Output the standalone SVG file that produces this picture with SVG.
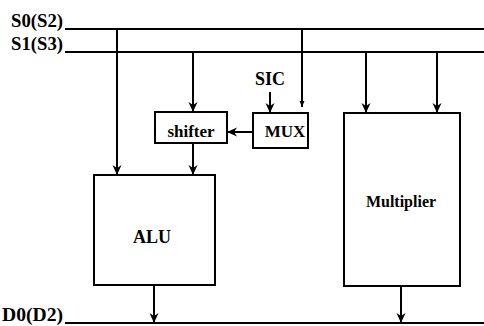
<svg xmlns="http://www.w3.org/2000/svg" width="484" height="326" viewBox="0 0 484 326" font-family="'Liberation Serif', 'DejaVu Serif', serif" font-weight="bold">
<style>
.bus{stroke:#000;stroke-width:2;fill:none}
.w{stroke:#000;stroke-width:2;fill:none}
.arr{marker-end:url(#ah)}
.box{fill:#fff;stroke:#000;stroke-width:2}
text{fill:#000}
.lbl{font-size:18px}
.nm{font-size:17px;text-anchor:middle}
</style>
<defs>
<marker id="ah" markerUnits="userSpaceOnUse" markerWidth="10" markerHeight="10" viewBox="0 0 10 10" refX="10" refY="5" orient="auto">
<path d="M0,0.5 L10,5 L0,9.5 L3,5 Z" fill="#000"/>
</marker>
<marker id="ahs" markerUnits="userSpaceOnUse" markerWidth="6" markerHeight="6" viewBox="0 0 6 6" refX="6" refY="3" orient="auto">
<path d="M0,0.5 L6,3 L0,5.5 Z" fill="#000"/>
</marker>
</defs>
<g id="buses">
<text class="lbl" x="11" y="27" textLength="52" lengthAdjust="spacingAndGlyphs">S0(S2)</text>
<text class="lbl" x="11" y="50" textLength="52" lengthAdjust="spacingAndGlyphs">S1(S3)</text>
<text class="lbl" x="2" y="321" textLength="61" lengthAdjust="spacingAndGlyphs">D0(D2)</text>
<line class="bus" x1="65" y1="29" x2="484" y2="29"/>
<line class="bus" x1="65" y1="52" x2="484" y2="52"/>
<line class="bus" x1="65" y1="323" x2="484" y2="323"/>
</g>
<g id="connectors">
<line class="w arr" x1="117" y1="29" x2="117" y2="175"/>
<line class="w arr" x1="193" y1="52" x2="193" y2="112"/>
<line class="w arr" x1="193" y1="143" x2="193" y2="175"/>
<line class="w arr" x1="253" y1="132" x2="227" y2="132"/>
<line class="w arr" x1="270" y1="92" x2="270" y2="113"/>
<line class="w" x1="302" y1="29" x2="302" y2="107" style="marker-end:url(#ahs)"/>
<line class="w arr" x1="366" y1="52" x2="366" y2="113"/>
<line class="w arr" x1="437" y1="52" x2="437" y2="113"/>
<line class="w arr" x1="154" y1="285" x2="154" y2="323"/>
<line class="w arr" x1="401" y1="286" x2="401" y2="323"/>
</g>
<g id="shifter">
<rect class="box" x="155" y="112" width="72" height="31"/>
<text class="nm" x="191" y="137">shifter</text>
</g>
<g id="mux">
<rect class="box" x="253" y="113" width="55" height="35"/>
<text class="nm" x="285" y="137">MUX</text>
</g>
<g id="sic">
<text class="lbl" x="255" y="85">SIC</text>
</g>
<g id="alu">
<rect class="box" x="94" y="175" width="121" height="110"/>
<text class="nm" x="152" y="243" style="font-size:18px">ALU</text>
</g>
<g id="multiplier">
<rect class="box" x="344" y="113" width="116" height="173"/>
<text class="nm" x="401" y="207" style="font-size:16px">Multiplier</text>
</g>
</svg>
